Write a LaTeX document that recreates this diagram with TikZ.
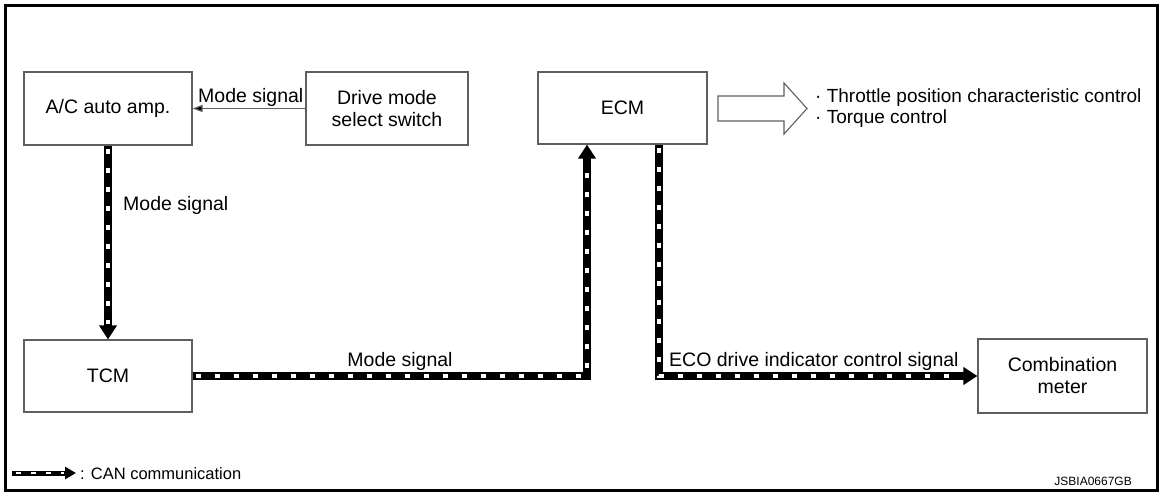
\documentclass[tikz,border=0pt]{standalone}
\usepackage{fontspec}
\setmainfont{Liberation Sans}
\usetikzlibrary{arrows.meta}
\definecolor{boxgray}{RGB}{95,95,95}
\begin{document}
\begin{tikzpicture}[x=1pt,y=-1pt,
  box/.style={draw=boxgray, line width=1.1pt, inner sep=0pt, align=center,
    font=\fontsize{19.5}{22}\selectfont},
  lbl/.style={inner sep=0pt, font=\fontsize{19.5}{21}\selectfont},
  can/.style={line width=7.5pt, line join=miter, -{Triangle[width=17pt,length=14pt]},
    postaction={draw=white, line width=3.2pt, -, dash pattern=on 5.5pt off 13.5pt, dash phase=-3pt, shorten >=15pt}},
  canlegend/.style={line width=5pt, -{Triangle[width=12pt,length=11pt]},
    postaction={draw=white, line width=2.2pt, -, dash pattern=on 5pt off 10pt, dash phase=-4pt, shorten >=12pt}},
  sig/.style={draw=boxgray, line width=1.1pt, -{Triangle[width=7pt,length=10pt,fill=black]}}
]
\useasboundingbox (0,0) rectangle (1161,494);
% frame
\draw[line width=3pt] (5,6) rectangle (1157,490);

% boxes
\node[box, minimum width=168pt, minimum height=73pt] (ac) at (108,108.5) {A/C auto amp.};
\node[box, minimum width=162pt, minimum height=73pt] (dm) at (387,108.5) {Drive mode\\select switch};
\node[box, minimum width=169pt, minimum height=72pt] (ecm) at (622.5,108) {ECM};
\node[box, minimum width=168pt, minimum height=72pt] (tcm) at (108,376) {TCM};
\node[box, minimum width=169pt, minimum height=74pt] (cm) at (1062.5,376) {Combination\\meter};

% connectors
\draw[sig] (dm.west) -- (ac.east);
\draw[can] (ac.south) -- (tcm.north);
\draw[can] (tcm.east) -| ([xshift=-35.5pt]ecm.south);
\draw[can] ([xshift=36.5pt]ecm.south) |- (cm.west);

% labels
\node[lbl, anchor=base west] (l1) at (198,103) {Mode signal};
\node[lbl, anchor=base west] (l2) at (123,211) {Mode signal};
\node[lbl, anchor=base] (l3) at (400,366) {Mode signal};
\node[lbl, anchor=base west] (l4) at (669,366) {ECO drive indicator control signal};

% block arrow
\draw[draw=boxgray, line width=1.1pt, fill=white, line join=miter]
  (718,96) -- (784,96) -- (784,83) -- (807,108.5) -- (784,134) -- (784,121) -- (718,121) -- cycle;
\node[inner sep=0pt, anchor=base west, align=left, font=\fontsize{19}{21}\selectfont] (ctl) at (815,124)
  {· Throttle position characteristic control\\· Torque control};

% legend
\coordinate (lg1) at (12,473);
\coordinate (lg2) at (76,473);
\draw[canlegend] (lg1) -- (lg2);
\node[inner sep=0pt, anchor=base west, font=\fontsize{16.5}{18}\selectfont] (lgt) at (80,479) {: CAN communication};

\node[inner sep=0pt, anchor=base east, font=\fontsize{12}{14}\selectfont] (code) at (1132,485.5) {JSBIA0667GB};
\end{tikzpicture}
\end{document}
